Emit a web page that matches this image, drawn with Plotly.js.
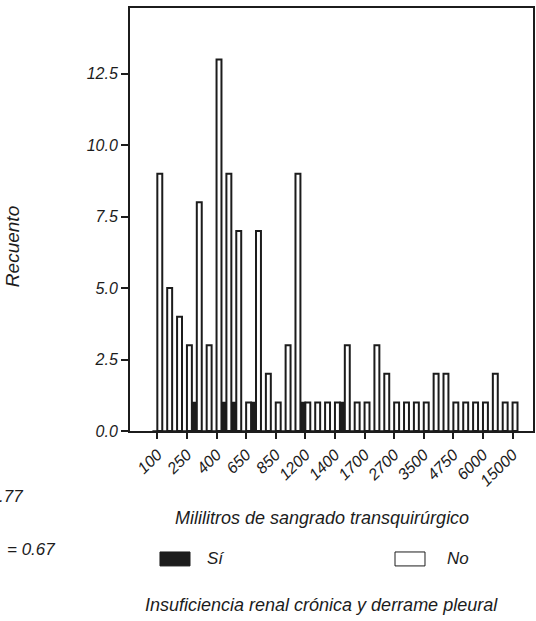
<!DOCTYPE html>
<html>
<head>
<meta charset="utf-8">
<script src="https://cdn.plot.ly/plotly-3.0.1.min.js"></script>
<style>html,body{margin:0;padding:0;background:#fff;}#chart{width:536px;height:621px;}</style>
</head>
<body>
<div id="chart"></div>
<script>
// Categories (ml of blood loss); only every third one is labelled in the chart
const categories = ["100","150","200","250","300","350","400","500","600","650","700","800","850","900","1000",
  "1200","1250","1300","1400","1500","1600","1700","2000","2500","2700","3000","3200","3500","4000","4500",
  "4750","5000","5500","6000","7000","10000","15000"];
const tickLabels = ["100","250","400","650","850","1200","1400","1700","2700","3500","4750","6000","15000"];
// Counts: Sí (with CKD & pleural effusion) and No
const countsSi = [0,0,0,0,1,0,0,1,1,0,1,0,0,0,0,1,0,0,0,1,0,0,0,0,0,0,0,0,0,0,0,0,0,0,0,0,0];
const countsNo = [9,5,4,3,8,3,13,9,7,1,7,2,1,3,9,1,1,1,1,3,1,1,3,2,1,1,1,1,2,2,1,1,1,1,2,1,1];
const yTicks = [0,2.5,5,7.5,10,12.5];
const yTickText = ["0.0","2.5","5.0","7.5","10.0","12.5"];
const seriesNames = ["Sí","No"];
const statTexts = [".77","= 0.67"];

const F = "Liberation Sans, Arial, Helvetica, sans-serif";
const ink = "#1c1c1c";

const traces = [
  {type:"bar", name:seriesNames[0], x:categories, y:countsSi,
   marker:{color:ink, line:{color:ink, width:1.5}}},
  {type:"bar", name:seriesNames[1], x:categories, y:countsNo,
   marker:{color:"#ffffff", line:{color:ink, width:2}}}
];

function ann(text, x, y, size, opts){
  return Object.assign({text:text, x:x, y:y, xref:"paper", yref:"paper", showarrow:false,
    xanchor:"center", yanchor:"middle",
    font:{family:F, size:size, color:ink, style:"italic"}}, opts||{});
}

const layout = {
  width:536, height:621,
  margin:{l:130, r:3, t:8, b:190},
  paper_bgcolor:"#fff", plot_bgcolor:"#fff",
  showlegend:false,
  barmode:"group", bargap:0, bargroupgap:0,
  font:{family:F, color:ink},
  xaxis:{type:"category", categoryorder:"array", categoryarray:categories,
    range:[-2.77, 38.07], tickmode:"array", tickvals:tickLabels, ticktext:tickLabels,
    ticks:"outside", ticklen:6, tickwidth:2, tickcolor:ink, tickangle:-45,
    ticklabelstandoff:0,
    tickfont:{family:F, size:16, color:ink, style:"italic"},
    showline:true, linewidth:2, linecolor:ink, mirror:true, showgrid:false, zeroline:false},
  yaxis:{range:[0,14.8], tickmode:"array", tickvals:yTicks, ticktext:yTickText,
    ticks:"outside", ticklen:7, tickwidth:2, tickcolor:ink,
    tickfont:{family:F, size:16, color:ink, style:"italic"},
    showline:true, linewidth:2, linecolor:ink, mirror:true, showgrid:false, zeroline:false},
  annotations:[
    ann("Recuento", -0.29, 0.435, 19, {textangle:-90}),
    ann("Mililitros de sangrado transquirúrgico", 0.476, -0.2057, 18),
    ann(seriesNames[0], 0.186, -0.3026, 17, {xanchor:"left"}),
    ann(seriesNames[1], 0.7816, -0.3026, 17, {xanchor:"left"}),
    ann("Insuficiencia renal crónica y derrame pleural", 0.476, -0.411, 18),
    ann(statTexts[0], -0.261, -0.156, 17, {xanchor:"right"}),
    ann(statTexts[1], -0.181, -0.279, 17, {xanchor:"right"})
  ],
  shapes:[
    {type:"rect", xref:"paper", yref:"paper", x0:0.0744, x1:0.1489, y0:-0.286, y1:-0.319,
     fillcolor:ink, line:{color:ink, width:1}},
    {type:"rect", xref:"paper", yref:"paper", x0:0.6576, x1:0.732, y0:-0.286, y1:-0.319,
     fillcolor:"#fff", line:{color:ink, width:1}}
  ]
};

Plotly.newPlot("chart", traces, layout, {displayModeBar:false, staticPlot:true});
</script>
</body>
</html>
